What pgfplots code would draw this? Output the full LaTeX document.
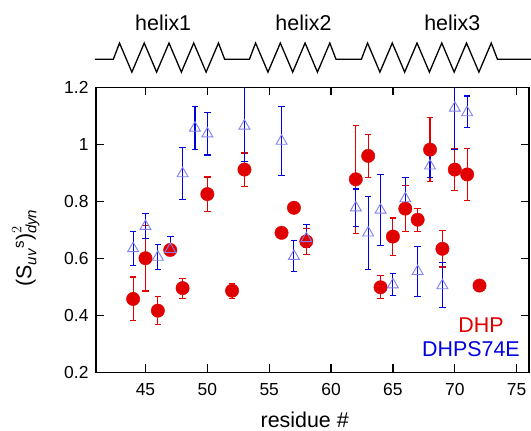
\documentclass[border=0pt]{standalone}
\usepackage{pgfplots}
\pgfplotsset{compat=1.18}
\usepackage{pgfplotstable}
\usepackage{amsmath}
\usepackage{fontspec}
\setmainfont{Liberation Sans}

\definecolor{dred}{RGB}{224,0,0}
\definecolor{dblue}{RGB}{0,0,224}
\definecolor{lblue}{RGB}{128,128,240}

\pgfplotstableread{
x y e
44 0.458 0.077
45 0.601 0.115
46 0.417 0.050
47 0.630 0.000
48 0.496 0.035
50 0.826 0.060
52 0.487 0.026
53 0.912 0.058
56 0.690 0.000
57 0.778 0.000
58 0.660 0.045
62 0.878 0.189
63 0.960 0.076
64 0.499 0.040
65 0.677 0.065
66 0.775 0.080
67 0.736 0.040
68 0.982 0.112
69 0.634 0.064
70 0.912 0.074
71 0.895 0.090
72 0.505 0.000
}\dhp

\pgfplotstableread{
x y ep em
44 0.635 0.060 0.060
45 0.713 0.044 0.044
46 0.605 0.045 0.045
47 0.632 0.044 0.020
48 0.898 0.090 0.090
49 1.058 0.075 0.075
50 1.038 0.075 0.075
53 1.065 0.160 0.125
56 1.012 0.120 0.120
57 0.608 0.055 0.055
58 0.670 0.048 0.030
62 0.778 0.066 0.066
63 0.690 0.128 0.128
64 0.770 0.125 0.125
65 0.508 0.040 0.038
66 0.810 0.074 0.025
67 0.555 0.088 0.088
68 0.925 0.035 0.040
69 0.505 0.082 0.077
70 1.128 0.150 0.145
71 1.112 0.058 0.052
}\dhpe

\pgfplotstableread{
x y
40.9 1.299
42.4 1.299
42.9 1.356
43.9 1.254
44.9 1.356
45.9 1.254
46.9 1.356
47.9 1.254
48.9 1.356
49.9 1.254
50.9 1.356
51.4 1.299
53.4 1.299
53.9 1.356
54.9 1.254
55.9 1.356
56.9 1.254
57.9 1.356
58.9 1.254
59.9 1.356
60.4 1.299
62.45 1.299
62.95 1.356
63.95 1.254
64.95 1.356
65.95 1.254
66.95 1.356
67.95 1.254
68.95 1.356
69.95 1.254
70.95 1.356
71.95 1.254
72.95 1.356
73.45 1.299
76.2 1.299
}\helix

\begin{document}
\begin{tikzpicture}
\begin{axis}[
  scale only axis, width=433bp, height=285bp,
  xmin=41, xmax=76, ymin=0.2, ymax=1.2,
  xtick={45,50,55,60,65,70,75},
  xticklabels={45,50,55,60,65,70,75},
  ytick={0.2,0.4,0.6,0.8,1,1.2},
  yticklabels={0.2,0.4,0.6,0.8,1,1.2},
  tick align=inside, major tick length=8bp,
  xtick pos=both, ytick pos=both,
  xticklabel pos=lower, yticklabel pos=left,
  axis line style={line width=1.7bp},
  tick style={black, line width=1.2bp},
  tick label style={font=\fontsize{17.5}{20}\selectfont},
  yticklabel style={xshift=-4bp},
  xticklabel style={yshift=-7bp},
  /pgf/number format/assume math mode=true,
  clip=true,
]
\addplot[only marks, mark=*, color=dred, mark size=6.7bp,
  error bars/.cd, y dir=both, y explicit,
  error bar style={line width=1.1bp, dred},
  error mark options={rotate=90, mark size=3.3bp, line width=1.1bp, dred}]
  table[x=x, y=y, y error=e]{\dhp};
\addplot[only marks, mark=triangle, color=dblue, mark size=6.3bp,
  mark options={draw=lblue, line width=0.9bp},
  error bars/.cd, y dir=both, y explicit,
  error bar style={line width=1.1bp, dblue},
  error mark options={rotate=90, mark size=3.3bp, line width=1.1bp, dblue}]
  table[x=x, y=y, y error plus=ep, y error minus=em]{\dhpe};
\end{axis}
\begin{axis}[
  scale only axis, width=433bp, height=285bp,
  xmin=41, xmax=76, ymin=0.2, ymax=1.2,
  hide axis, clip=false,
]
\addplot[black, line width=1.3bp, line join=miter, mark=none] table[x=x, y=y]{\helix};
\node[font=\fontsize{21.5}{24}\selectfont] at (axis cs:46.43,1.427) {helix1};
\node[font=\fontsize{21.5}{24}\selectfont] at (axis cs:57.77,1.427) {helix2};
\node[font=\fontsize{21.5}{24}\selectfont] at (axis cs:69.8,1.427) {helix3};
\node[font=\fontsize{21.5}{24}\selectfont, text=dred] at (rel axis cs:0.889,0.167) {DHP};
\node[font=\fontsize{21.5}{24}\selectfont, text=dblue] at (rel axis cs:0.866,0.082) {DHPS74E};
\node[font=\fontsize{21.5}{24}\selectfont, inner sep=1bp] at (rel axis cs:0.482,-0.165) {residue \#};
\node[font=\fontsize{21.5}{24}\selectfont, rotate=90] at (rel axis cs:-0.162,0.437)
  {$\text{(S}_{\textit{uv}}{}^{\text{s}}\text{)}^{2}_{\textit{dyn}}$};
\end{axis}
\pgfresetboundingbox
\path (-96bp,-58.5bp) rectangle (435bp,372.5bp);
\end{tikzpicture}
\end{document}
